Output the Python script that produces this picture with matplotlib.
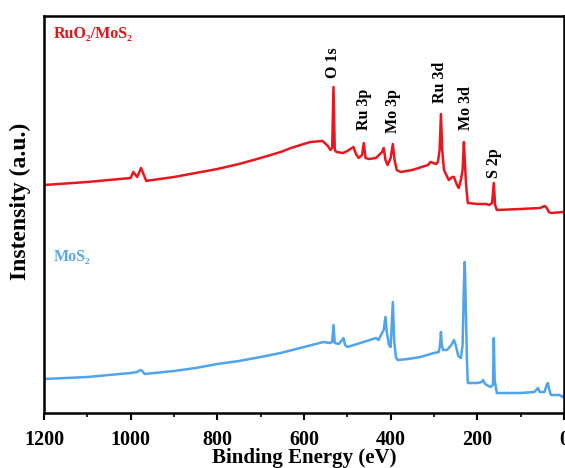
import numpy as np
import matplotlib
matplotlib.use('Agg')
import matplotlib.pyplot as plt

plt.rcParams['font.family'] = ['Liberation Serif', 'DejaVu Serif']
plt.rcParams['font.weight'] = 'bold'

# binding energy (eV) and intensity (a.u., offset already applied)
e_ruo2 = [1200, 1100, 1000, 994, 985, 976, 964, 950, 900, 850, 800, 750, 700, 654, 630, 608,
          585, 557, 545, 539, 535, 532, 529, 525, 510, 500, 486, 480, 474, 466, 462, 458,
          450, 434, 420, 416, 412, 407, 400, 395, 391, 386, 377, 350, 314, 308, 295, 291,
          287, 284, 281, 277, 266, 258, 254, 248, 243, 238, 234, 231, 229, 226, 222, 200,
          180, 173, 166, 162, 159, 155, 100, 55, 45, 41, 35, 30, 0]
i_ruo2 = [228, 231, 235, 241, 236, 245, 232, 233, 236, 240, 244, 249, 255, 261, 265, 268,
          271, 272, 267, 263, 265, 326, 263, 261, 260, 262, 266, 259, 255, 258, 270, 255,
          254, 255, 261, 265, 253, 248, 255, 269, 253, 243, 241, 243, 248, 251, 249, 251,
          263, 299, 263, 243, 233, 236, 236, 229, 225, 233, 243, 271, 253, 228, 210, 209,
          209, 208, 210, 230, 208, 203, 204, 205, 207, 206, 201, 200, 201]

e_mos2 = [1200, 1100, 1000, 985, 978, 973, 968, 900, 850, 800, 750, 700, 654, 600, 555, 540,
          535, 532, 529, 520, 512, 509, 505, 500, 470, 434, 428, 420, 416, 412, 409, 404,
          400, 395, 392, 388, 384, 360, 331, 300, 289, 286, 284, 282, 279, 270, 260, 254,
          250, 244, 238, 234, 231, 229, 227, 224, 222, 200, 190, 187, 182, 170, 164, 162,
          160, 155, 100, 69, 64, 60, 56, 45, 40, 37, 34, 30, 10, 4, 0]
i_mos2 = [34, 36, 40, 41, 43, 42, 39, 42, 45, 49, 52, 56, 60, 66, 71, 70,
          71, 88, 70, 69, 73, 75, 68, 66, 70, 75, 73, 80, 83, 96, 81, 68,
          66, 111, 73, 56, 53, 54, 56, 60, 61, 68, 81, 68, 63, 63, 68, 73,
          68, 57, 55, 68, 128, 151, 113, 53, 30, 30, 31, 33, 29, 26, 28, 75,
          33, 20, 20, 21, 23, 25, 21, 21, 28, 30, 23, 18, 18, 16, 18]

peak_names = ['O 1s', 'Ru 3p', 'Mo 3p', 'Ru 3d', 'Mo 3d', 'S 2p']
peak_pos = [532, 462, 394, 286, 226, 162]
label_base = [335, 283, 280, 310, 283, 235]

red = '#e8161e'
blue = '#4fa4ec'

fig = plt.figure(figsize=(5.65, 4.68), dpi=100)
ax = fig.add_axes([44 / 565, 1 - 413 / 468, 520 / 565, 397 / 468])

ax.plot(e_ruo2, i_ruo2, color=red, lw=1.8)
ax.plot(e_mos2, i_mos2, color=blue, lw=1.8)

for name, x, y in zip(peak_names, peak_pos, label_base):
    ax.text(x, y, name, rotation=90, ha='center', va='bottom',
            fontsize=11.5, fontweight='bold', color='black')

ax.text(0.018, 0.955, 'RuO₂/MoS₂', transform=ax.transAxes, color='#e0141c',
        fontsize=11.5, fontweight='bold', va='center')
ax.text(0.018, 0.392, 'MoS₂', transform=ax.transAxes, color='#5aa8e8',
        fontsize=11.5, fontweight='bold', va='center')

ax.set_xlim(1200, 0)
ax.set_ylim(0, 397)
ax.set_xticks([1200, 1000, 800, 600, 400, 200, 0])
ax.set_xticks(np.arange(100, 1200, 200), minor=True)
ax.set_yticks([])
ax.tick_params(axis='x', which='major', direction='out', length=5, width=1.5,
               labelsize=14.5, pad=7)
ax.tick_params(axis='x', which='minor', direction='out', length=3, width=1.2)
for lab in ax.get_xticklabels():
    lab.set_fontweight('bold')
for sp in ax.spines.values():
    sp.set_linewidth(1.8)

ax.set_xlabel('Binding Energy (eV)', fontsize=15, fontweight='bold', labelpad=-1)
ax.set_ylabel('Instensity (a.u.)', fontsize=17, fontweight='bold')
ax.yaxis.set_label_coords(-0.025, 0.534)

fig.savefig('out.png', dpi=100)
